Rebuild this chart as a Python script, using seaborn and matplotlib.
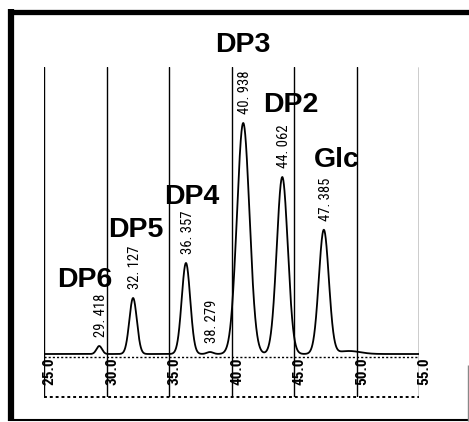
import numpy as np
import pandas as pd
import seaborn as sns
import matplotlib.pyplot as plt
from matplotlib.lines import Line2D

# Peak table (retention time in min, apex height, peak width sigma in min)
peak_rt = [29.418, 32.127, 36.357, 38.279, 40.938, 44.062, 47.385]
peak_height = [8, 56, 91, 2, 231, 177, 124]
peak_sigma = [0.22, 0.30, 0.34, 0.25, 0.50, 0.44, 0.40]
peak_names = ["DP6", "DP5", "DP4", "", "DP3", "DP2", "Glc"]

# Low tailing after the glucose peak
tail_rt = [49.4]
tail_height = [3]
tail_sigma = [0.9]

time_ticks = [25.0, 30.0, 35.0, 40.0, 45.0, 50.0, 55.0]
time_labels = ["25.0", "30.0", "35.0", "40.0", "45.0", "50.0", "55.0"]

# Name label offsets from each apex (min, signal units)
name_dx = [-1.13, 0.25, 0.50, 0.0, 0.0, 0.67, 1.04]
name_dy = [66, 68, 66, 0, 78, 72, 70]

# Build the detector trace from the peak table
t = np.linspace(25.0, 55.0, 3001)
signal = np.zeros_like(t)
for r, h, s in zip(peak_rt + tail_rt, peak_height + tail_height, peak_sigma + tail_sigma):
    signal += h * np.exp(-0.5 * ((t - r) / s) ** 2)
trace = pd.DataFrame({"time": t, "signal": signal})

sns.set_style("white")
plt.rcParams["text.color"] = "black"
W, H = 469, 422
fig = plt.figure(figsize=(W / 100, H / 100), dpi=100)
ax = fig.add_axes([44 / W, 1 - 397 / H, (419 - 44) / W, (397 - 67) / H])

sns.lineplot(data=trace, x="time", y="signal", ax=ax, color="black", lw=1.3)

ax.set_xlim(25.0, 55.0)
ax.set_ylim(-43, 287)
for x in time_ticks:
    ax.axvline(x, color="black", lw=1.0, zorder=1)
ax.axhline(-2.5, color="black", lw=1.0, ls=(0, (1.5, 1.5)))
ax.axhline(-43, color="black", lw=1.4, ls=(0, (1.5, 1.5)), clip_on=False)
for sp in ax.spines.values():
    sp.set_visible(False)
ax.set_xticks([])
ax.set_yticks([])
ax.set_xlabel("")
ax.set_ylabel("")

narrow = ["Roboto Condensed", "Liberation Sans Narrow", "Roboto", "DejaVu Sans"]

# Time axis labels sitting between the baseline and the lower dotted rule
for x, lab in zip(time_ticks, time_labels):
    ax.text(x + 0.45, -17, lab, rotation=90, ha="center", va="center",
            fontsize=11, fontweight="bold", family=narrow,
            fontstretch="condensed", clip_on=False)

# Retention time above each apex, and compound names
for r, h, nm, dx, dy in zip(peak_rt, peak_height, peak_names, name_dx, name_dy):
    ax.text(r + 0.15, h + 9, f"{r:.3f}".replace(".", ". "), rotation=90,
            ha="center", va="bottom", fontsize=10.5, family=narrow,
            fontstretch="condensed", clip_on=False)
    if nm:
        ax.text(r + dx, h + dy, nm, ha="center", va="center", fontsize=20.5,
                fontweight="bold", family=["Liberation Sans", "DejaVu Sans"],
                clip_on=False, zorder=5)

# Outer frame
def px_line(x0, y0, x1, y1, lw, color="black"):
    fig.add_artist(Line2D([x0 / W, x1 / W], [1 - y0 / H, 1 - y1 / H],
                          color=color, lw=lw, solid_capstyle="butt"))

px_line(11, 9, 11, 421, 4.5)
px_line(8, 11.5, 469, 11.5, 3.8)
px_line(8, 419.5, 469, 419.5, 1.5)
px_line(467.5, 365, 467.5, 421, 1.0, color="#888888")

fig.savefig("out.png", dpi=100)
